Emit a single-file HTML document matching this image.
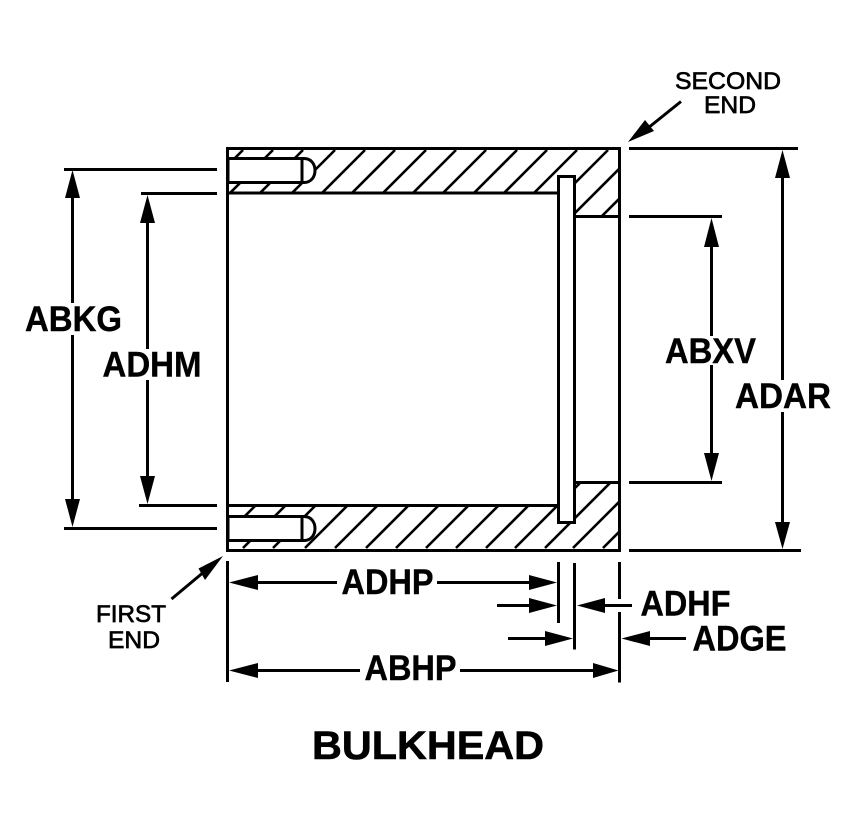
<!DOCTYPE html>
<html lang="en">
<head>
<meta charset="utf-8">
<title>Bulkhead</title>
<style>
html,body{margin:0;padding:0;background:#fff}
svg{display:block}
text{font-family:"Liberation Sans",Arial,sans-serif;fill:#000}
.b{font-weight:bold;font-size:35px;stroke:#000;stroke-width:.4px}
.r{font-size:24.5px;stroke:#000;stroke-width:.7px}
</style>
</head>
<body>
<svg xmlns="http://www.w3.org/2000/svg" width="850" height="838" viewBox="0 0 850 838">
<defs>
<clipPath id="ct"><path d="M227 148H619V216H574V193H227Z"/></clipPath>
<clipPath id="cb"><path d="M227 505H574V482H619V550H227Z"/></clipPath>
</defs>
<rect width="850" height="838" fill="#fff"/>

<!-- hatching top -->
<g clip-path="url(#ct)" stroke="#000" stroke-width="2.6" fill="none">
<path d="M243 150L173 220M273 150L203 220M303 150L233 220M335 150L265 220M365 150L295 220M395 150L325 220M426 150L356 220M456 150L386 220M486 150L416 220M517 150L447 220M547 150L477 220M577 150L507 220M608 150L538 220M638 150L568 220M668 150L598 220"/>
</g>
<!-- hatching bottom -->
<g clip-path="url(#cb)" stroke="#000" stroke-width="2.6" fill="none">
<path d="M283 478L213 548M313 478L243 548M343 478L273 548M375 478L305 548M405 478L335 548M436 478L366 548M466 478L396 548M496 478L426 548M526 478L456 548M556 478L486 548M585 478L515 548M615 478L545 548M643 478L573 548M673 478L603 548"/>
</g>

<g fill="#fff" stroke="#000" stroke-width="3">
<!-- top blind hole -->
<path d="M228 158.500H304C311 158.500 315 164 315 170.500C315 177 311 182.500 304 182.500H228Z"/>
<path d="M302 158.500V182.500" fill="none"/>
<!-- bottom blind hole -->
<path d="M228 516.500H304C311 516.500 315 522 315 528.500C315 535 311 540.500 304 540.500H228Z"/>
<path d="M302 516.500V540.500" fill="none"/>
</g>

<!-- body outline -->
<g fill="none" stroke="#000" stroke-width="3">
<path d="M227.500 148.500H619.500V550.500H227.500Z"/>
<path d="M227 193H558M227 505.500H558M574 216.500H619M574 482.500H619"/>
</g>
<rect x="558.500" y="176.500" width="16" height="346" fill="#fff" stroke="#000" stroke-width="3"/>

<!-- dimension and extension lines -->
<g fill="none" stroke="#000" stroke-width="3">
<path d="M64 169.500H217M141 193.500H217M139 505.500H217M64 528.500H217"/>
<path d="M72.500 190V303M72.500 335V505"/>
<path d="M147.500 215V349M147.500 380V482"/>
<path d="M629 148.500H798M629 216.500H722M629 482.500H722M629 550.500H801"/>
<path d="M711.500 240V336M711.500 365V460"/>
<path d="M782.500 172V380M782.500 412V528"/>
<path d="M227.500 561V682M558.500 562V623M574.500 563V649.500M619.500 562V599M619.500 612V682.500"/>
<path d="M252 582.500H337M437 582.500H535M497 605.500H535M598 605.500H632M508 638.500H550M644 638.500H686M252 670.500H360M460 670.500H598"/>
<path d="M171.500 599L205 571M681 101.500L648 128"/>
</g>

<!-- arrowheads -->
<g fill="#000" stroke="none">
<path d="M72.500 170L80 198H65Z"/>
<path d="M147.500 195L155 223H140Z"/>
<path d="M72.500 527L80 499H65Z"/>
<path d="M147.500 504L155 476H140Z"/>
<path d="M711.500 218L719 247H704Z"/>
<path d="M782.500 150L790 178H775Z"/>
<path d="M711.500 481L719 453H704Z"/>
<path d="M782.500 549L790 522H775Z"/>
<path d="M229 582.500L258 575V590Z"/>
<path d="M557 582.500L529 575V590Z"/>
<path d="M557 605.500L529 598V613Z"/>
<path d="M577 605.500L605 598V613Z"/>
<path d="M573 638.500L545 631V646Z"/>
<path d="M621.500 638.500L650 631V646Z"/>
<path d="M229 670.500L258 663V678Z"/>
<path d="M618.500 670.500L593 663V678Z"/>
<path d="M223 556L198.500 568.500L205 580Z"/>
<path d="M628 142L645 120L654 131Z"/>
</g>

<!-- labels -->
<text class="b" x="25" y="331" textLength="97" lengthAdjust="spacingAndGlyphs">ABKG</text>
<text class="b" x="102.500" y="376.500" textLength="99" lengthAdjust="spacingAndGlyphs">ADHM</text>
<text class="b" x="665" y="363" textLength="91" lengthAdjust="spacingAndGlyphs">ABXV</text>
<text class="b" x="735" y="408" textLength="96" lengthAdjust="spacingAndGlyphs">ADAR</text>
<text class="b" x="341.500" y="594" textLength="92" lengthAdjust="spacingAndGlyphs">ADHP</text>
<text class="b" x="364.500" y="680" textLength="92" lengthAdjust="spacingAndGlyphs">ABHP</text>
<text class="b" x="640.500" y="615.500" textLength="90" lengthAdjust="spacingAndGlyphs">ADHF</text>
<text class="b" x="692.500" y="650.500" textLength="94" lengthAdjust="spacingAndGlyphs">ADGE</text>
<text class="b" x="312" y="759" style="font-size:40px;stroke-width:.6px" textLength="232" lengthAdjust="spacingAndGlyphs">BULKHEAD</text>
<text class="r" x="96" y="622" textLength="70" lengthAdjust="spacingAndGlyphs">FIRST</text>
<text class="r" x="108" y="648" textLength="52" lengthAdjust="spacingAndGlyphs">END</text>
<text class="r" x="675" y="89" textLength="106" lengthAdjust="spacingAndGlyphs">SECOND</text>
<text class="r" x="704" y="113" textLength="52" lengthAdjust="spacingAndGlyphs">END</text>
</svg>
</body>
</html>
